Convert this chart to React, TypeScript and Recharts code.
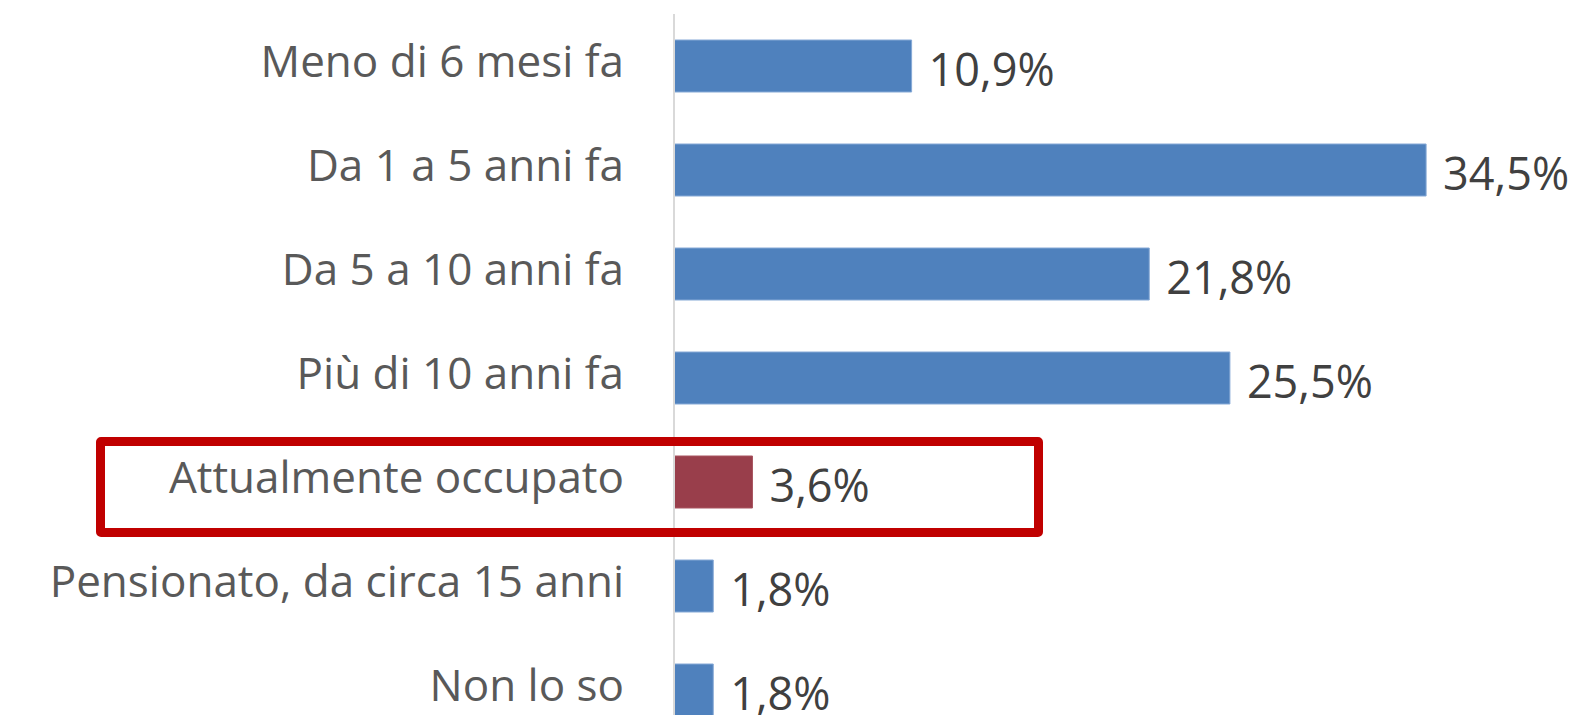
import React from 'react';
import { BarChart, Bar, XAxis, YAxis, Cell, LabelList } from 'recharts';

const categories = [
  'Meno di 6 mesi fa',
  'Da 1 a 5 anni fa',
  'Da 5 a 10 anni fa',
  'Più di 10 anni fa',
  'Attualmente occupato',
  'Pensionato, da circa 15 anni',
  'Non lo so',
];
const values = [10.9, 34.5, 21.8, 25.5, 3.6, 1.8, 1.8];
const highlighted = 'Attualmente occupato';

const data = categories.map((name, i) => ({ name, value: values[i] }));

const FONT = '"Open Sans", sans-serif';
const BLUE = '#4F81BD';
const RED_BAR = '#993E4B';

const CategoryTick = ({ x, y, payload }: any) => (
  <text x={x} y={y} dy={11} textAnchor="end" fill="#595959" fontFamily={FONT} fontSize={44}>
    {payload.value}
  </text>
);

const ValueLabel = ({ x, y, width, height, value }: any) => (
  <text
    x={Number(x) + Number(width) + 17}
    y={Number(y) + Number(height) / 2 + 20}
    fill="#404040"
    fontFamily={FONT}
    fontSize={45}
  >
    {`${String(value).replace('.', ',')}%`}
  </text>
);

export default function App() {
  return (
    <div style={{ position: 'absolute', left: 0, top: 0, width: 1580, height: 715, overflow: 'hidden', background: '#fff' }}>
      <BarChart
        width={1580}
        height={742}
        data={data}
        layout="vertical"
        margin={{ top: 14, right: 34, bottom: 0, left: 0 }}
        barCategoryGap="25%"
      >
        <XAxis type="number" domain={[0, 40]} hide />
        <YAxis
          type="category"
          dataKey="name"
          width={674}
          tickLine={false}
          tickSize={0}
          tickMargin={50}
          axisLine={{ stroke: '#D9D9D9', strokeWidth: 2 }}
          tick={<CategoryTick />}
          interval={0}
        />
        <Bar dataKey="value" isAnimationActive={false}>
          {data.map((d) => (
            <Cell
              key={d.name}
              fill={d.name === highlighted ? RED_BAR : BLUE}
              stroke={d.name === highlighted ? '#A85560' : '#86A9D6'}
              strokeWidth={1}
            />
          ))}
          <LabelList dataKey="value" content={<ValueLabel />} />
        </Bar>
      </BarChart>
      <div
        style={{
          position: 'absolute',
          left: 96,
          top: 437,
          width: 947,
          height: 100,
          border: '9px solid #C00000',
          borderRadius: 5,
          boxSizing: 'border-box',
        }}
      />
    </div>
  );
}
